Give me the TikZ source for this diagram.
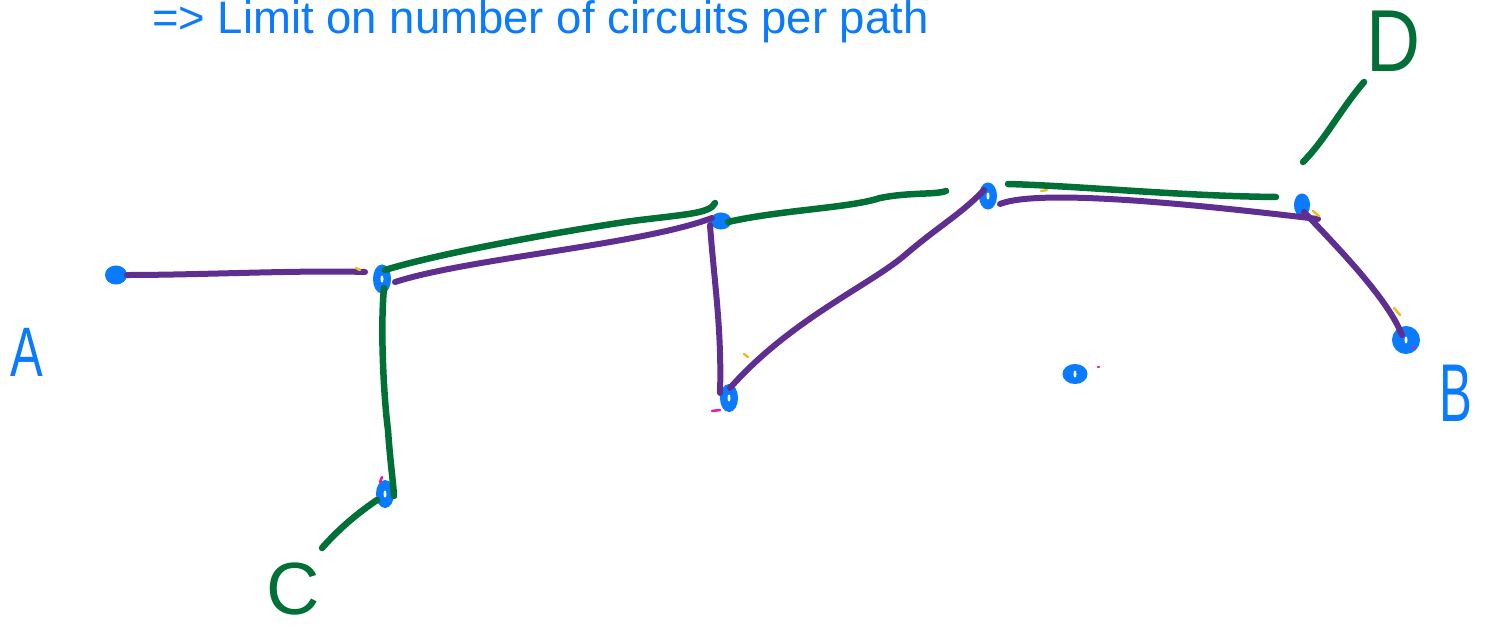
\documentclass[tikz,border=0pt]{standalone}
\usepackage{fontspec}
\setmainfont{Liberation Sans}
\usetikzlibrary{shapes.geometric}
\definecolor{inkblue}{RGB}{10,122,255}
\definecolor{inkpurple}{RGB}{94,46,145}
\definecolor{inkgreen}{RGB}{0,112,55}
\definecolor{inkyellow}{RGB}{240,190,30}
\definecolor{inkpink}{RGB}{240,20,170}
\begin{document}
\begin{tikzpicture}[x=1pt,y=-1pt,
  dotnode/.style={ellipse,draw=inkblue,fill=inkblue,line width=3pt,inner sep=0pt,minimum size=16pt},
  dotcore/.style={ellipse,fill=white,inner sep=0pt,minimum width=3pt,minimum height=7pt},
  pstroke/.style={draw=inkpurple,line width=6pt,line cap=round,line join=round},
  gstroke/.style={draw=inkgreen,line width=6.5pt,line cap=round,line join=round},
  ymark/.style={draw=inkyellow,line width=2.5pt,line cap=round},
  pmark/.style={draw=inkpink,line width=2.5pt,line cap=round},
  letter/.style={inner sep=0pt,font=\fontsize{#1}{#1}\selectfont}]
\useasboundingbox (0,0) rectangle (1486,629);

% title
\node[anchor=base west,inner sep=0pt,text=inkblue,font=\fontsize{45.5}{45.5}\selectfont] (title) at (152,34) {=> Limit on number of circuits per path};

% dots
\node[dotnode,minimum width=19pt,minimum height=16pt] (n1) at (116,275) {};
\node[dotnode,minimum width=15pt,minimum height=26pt] (n2) at (382,279) {};
\node[dotnode,minimum width=18pt,minimum height=14pt] (n3) at (721,221) {};
\node[dotnode,minimum width=15pt,minimum height=24pt] (n4) at (988,196) {};
\node[dotnode,minimum width=13pt,minimum height=20pt] (n5) at (1302,205) {};
\node[dotnode,minimum size=25pt] (n6) at (1406,340) {};
\node[dotnode,minimum width=15pt,minimum height=25pt] (n7) at (729,398) {};
\node[dotnode,minimum width=15pt,minimum height=25pt] (n8) at (385,494) {};
\node[dotnode,minimum width=22pt,minimum height=17pt] (n9) at (1075,374) {};
\foreach \n in {n2,n4,n6,n7,n8,n9} \node[dotcore] at (\n) {};

% letters
\node[letter=70,text=inkblue,xscale=0.7] (A) at (27,352) {A};
\node[letter=82,text=inkblue,xscale=0.6] (B) at (1456,393) {B};
\node[letter=74,text=inkgreen] (C) at (293,589) {C};
\node[letter=88,text=inkgreen,xscale=0.85] (D) at (1393,41) {D};

% purple path
\draw[pstroke] (n1) .. controls (200,275) and (300,270) .. (365,272);
\draw[pstroke] (395,282) .. controls (470,258) and (640,245) .. (712,218);
\draw[pstroke] (710,225) .. controls (714,280) and (722,330) .. (720,393);
\draw[pstroke] (730,388) .. controls (790,320) and (870,285) .. (905,255) .. controls (940,225) and (960,215) .. (984,190);
\draw[pstroke] (1000,204) .. controls (1040,188) and (1200,205) .. (1318,219);
\draw[pstroke] (1304,212) .. controls (1345,255) and (1388,300) .. (1402,335);

% green path
\draw[gstroke] (385,270) .. controls (450,250) and (600,225) .. (640,220) .. controls (690,214) and (710,213) .. (715,203);
\draw[gstroke] (728,222) .. controls (780,210) and (850,208) .. (880,198) .. controls (910,192) and (935,195) .. (946,191);
\draw[gstroke] (1008,184) .. controls (1080,186) and (1180,196) .. (1276,197);
\draw[gstroke] (384,288) .. controls (380,330) and (384,400) .. (388,430) .. controls (390,460) and (393,480) .. (394,496);
\draw[gstroke] (377,500) .. controls (355,515) and (338,530) .. (322,548);
\draw[gstroke] (1303,162) .. controls (1325,140) and (1340,110) .. (1364,82);

% small marks
\draw[ymark] (356,268) -- (360,270);
\draw[ymark] (744,354) -- (748,357);
\draw[ymark] (1041,191) -- (1047,190);
\draw[ymark] (1313,211) -- (1319,216);
\draw[ymark] (1394,308) -- (1400,315);
\draw[pmark] (712,411) -- (720,410);
\draw[pmark] (380,482) -- (382,477);
\draw[pmark] (1098,367) -- (1099,367);
\draw[pmark] (1413,347) -- (1414,348);
\end{tikzpicture}
\end{document}
